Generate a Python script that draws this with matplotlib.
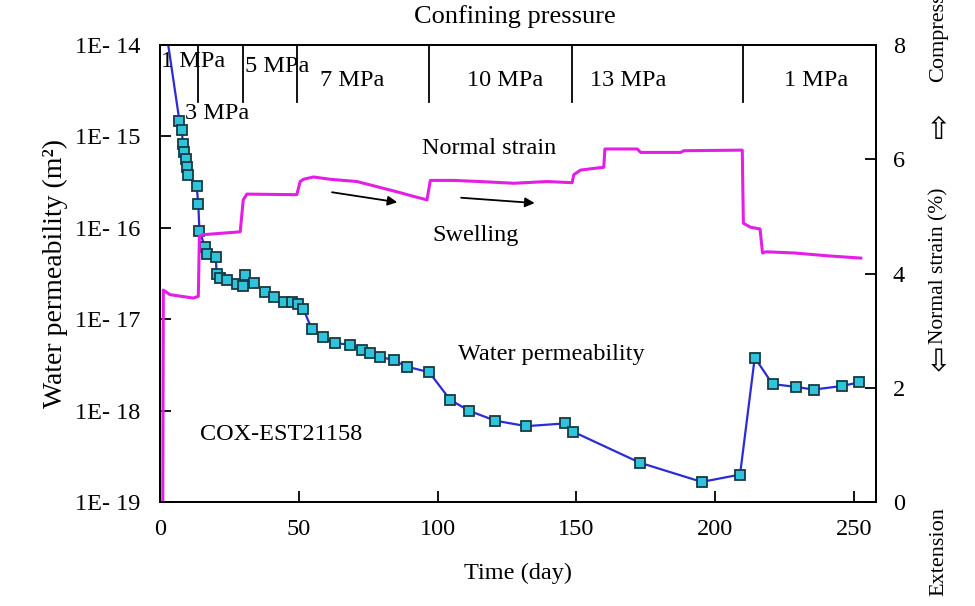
import numpy as np
import matplotlib.pyplot as plt

# water permeability (time in days, log10 of k in m2); first point is the line start only
perm_days = [2.0, 7.0, 7.9, 8.2, 8.7, 9.3, 9.6, 10.1, 13.2, 13.8, 14.2, 16.2, 17.1,
             20.1, 20.4, 21.6, 24.1, 27.7, 29.8, 30.7, 33.7, 37.9, 41.2, 44.5, 47.5,
             49.9, 51.7, 54.7, 58.7, 63.1, 68.3, 72.8, 75.8, 79.4, 84.2, 89.1, 97.0,
             104.5, 111.2, 120.8, 132.0, 145.9, 148.8, 172.9, 195.2, 209.0, 214.3,
             220.7, 229.1, 235.5, 245.9, 251.9]
perm_log = [-13.80, -14.83, -14.93, -15.08, -15.17, -15.25, -15.33, -15.42, -15.54,
            -15.74, -16.03, -16.21, -16.29, -16.32, -16.50, -16.55, -16.57, -16.61,
            -16.64, -16.52, -16.60, -16.70, -16.76, -16.81, -16.81, -16.83, -16.89,
            -17.11, -17.20, -17.26, -17.28, -17.34, -17.37, -17.41, -17.45, -17.52,
            -17.58, -17.88, -18.00, -18.11, -18.17, -18.14, -18.23, -18.57, -18.78,
            -18.70, -17.42, -17.71, -17.74, -17.77, -17.73, -17.69]

# normal strain (%)
strain_days = [0.0, 1.0, 1.2, 3.6, 12.0, 13.8, 14.2, 15.6, 28.9, 30.0, 31.3, 49.3,
               50.5, 51.7, 55.3, 61.3, 71.0, 78.2, 85.4, 91.4, 96.2, 97.4, 105.8,
               115.4, 127.5, 139.5, 148.5, 149.1, 151.5, 156.3, 159.9, 160.3, 172.0,
               173.2, 187.6, 188.8, 209.8, 210.2, 212.8, 216.2, 217.1, 218.3, 228.5,
               240.5, 252.5]
strain_vals = [0.00, 0.00, 3.71, 3.63, 3.57, 3.60, 4.65, 4.68, 4.73, 5.29, 5.39, 5.38,
               5.61, 5.65, 5.69, 5.65, 5.61, 5.52, 5.43, 5.35, 5.29, 5.63, 5.63,
               5.61, 5.58, 5.61, 5.59, 5.73, 5.81, 5.84, 5.86, 6.18, 6.18,
               6.12, 6.12, 6.15, 6.16, 4.88, 4.81, 4.78, 4.36, 4.38, 4.36,
               4.31, 4.27]

# confining pressure stages
pressure_steps = [13.7, 29.8, 49.3, 97.0, 148.6, 210.2]
pressure_labels = ['1 MPa', '3 MPa', '5 MPa', '7 MPa', '10 MPa', '13 MPa', '1 MPa']

perm_ticks = [1e-19, 1e-18, 1e-17, 1e-16, 1e-15, 1e-14]
perm_tick_labels = ['1E- 19', '1E- 18', '1E- 17', '1E- 16', '1E- 15', '1E- 14']
strain_ticks = [0, 2, 4, 6, 8]
time_ticks = [0, 50, 100, 150, 200, 250]

plt.rcParams['font.family'] = ['Liberation Serif', 'DejaVu Sans']
plt.rcParams['font.size'] = 17.5

fig = plt.figure(figsize=(9.75, 6.06), dpi=100)
ax = fig.add_axes([0.1641, 0.1716, 0.7344, 0.7541])

k = 10 ** np.array(perm_log)
ax.plot(perm_days, k, color='#2b2bd8', lw=1.6, zorder=3)
ax.plot(perm_days[1:], k[1:], 's', ms=7, mfc='#2fc3dc', mec='#163a44', mew=1.3, zorder=4)
ax.set_yscale('log')
ax.set_ylim(1e-19, 1e-14)
ax.set_xlim(0, 258)
ax.set_yticks(perm_ticks)
ax.set_yticklabels(perm_tick_labels)
ax.yaxis.set_minor_locator(plt.NullLocator())
ax.set_xticks(time_ticks)
ax.tick_params(direction='in', length=8, width=1.3, right=False, top=False)
ax.tick_params(axis='y', pad=14)
ax.tick_params(axis='x', pad=12)
ax.set_xlabel('Time (day)', labelpad=17)
ax.set_ylabel('Water permeability (m²)', labelpad=5, fontsize=20)
for s in ax.spines.values():
    s.set_linewidth(1.3)

ax2 = ax.twinx()
ax2.plot(strain_days, strain_vals, color='#e41ee4', lw=2.2, zorder=2)
ax2.set_ylim(0, 8)
ax2.set_yticks(strain_ticks)
ax2.tick_params(direction='in', length=8, width=1.3, pad=12)
for s in ax2.spines.values():
    s.set_linewidth(1.3)

# pressure stage markers along the top
xt = ax.get_xaxis_transform()
for d in pressure_steps:
    ax.plot([d, d], [0.875, 1.0], transform=xt, color='k', lw=1.3, clip_on=False)
label_pos = [(0.3, 0.963, 'left'), (9.0, 0.851, 'left'), (30.7, 0.954, 'left'),
             (69.3, 0.923, 'center'), (124.5, 0.923, 'center'),
             (168.8, 0.923, 'center'), (236.3, 0.923, 'center')]
for lab, (x, y, ha) in zip(pressure_labels, label_pos):
    ax.text(x, y, lab, transform=xt, ha=ha, va='center')

# swelling arrows
arrow = dict(arrowstyle='-|>', color='k', lw=1.3, mutation_scale=14)
ax2.annotate('', xy=(86.5, 5.24), xytext=(61, 5.43), arrowprops=arrow)
ax2.annotate('', xy=(136, 5.23), xytext=(107.5, 5.33), arrowprops=arrow)

ax.text(0.459, 0.774, 'Normal strain', transform=ax.transAxes, ha='center', va='center')
ax.text(0.441, 0.584, 'Swelling', transform=ax.transAxes, ha='center', va='center')
ax.text(0.547, 0.322, 'Water permeability', transform=ax.transAxes, ha='center', va='center')
ax.text(0.169, 0.147, 'COX-EST21158', transform=ax.transAxes, ha='center', va='center')

fig.text(0.528, 0.972, 'Confining pressure', ha='center', va='center', fontsize=19)

# right axis caption with direction arrows
fig.text(0.963, 0.163, 'Extension', rotation=90, ha='center', va='top', fontsize=16)
fig.text(0.963, 0.401, '⇩', ha='center', va='center', family=['DejaVu Sans'], fontsize=22)
fig.text(0.963, 0.561, 'Normal strain (%)', rotation=90, ha='center', va='center', fontsize=15.5)
fig.text(0.963, 0.785, '⇧', ha='center', va='center', family=['DejaVu Sans'], fontsize=22)
fig.text(0.963, 0.865, 'Compression', rotation=90, ha='center', va='bottom', fontsize=16)

fig.savefig('out.png', dpi=100)
